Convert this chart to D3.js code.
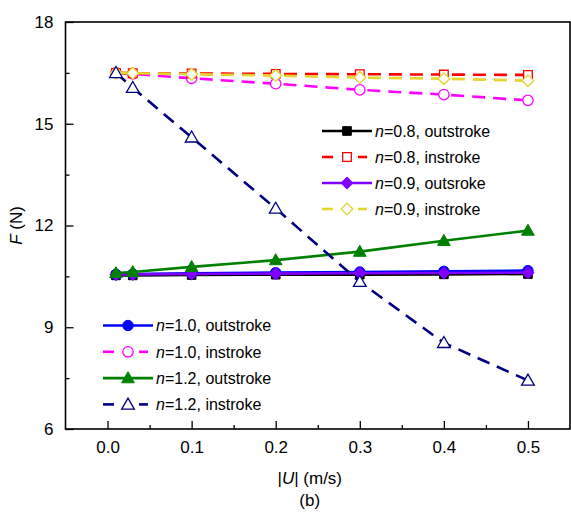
<!DOCTYPE html>
<html lang="en">
<head>
    <meta charset="utf-8" />
    <title>F vs |U|</title>
    <style>
        body { margin: 0; background: white; }
        svg text { font-family: 'Liberation Sans', Arial, sans-serif; fill: black; }
        .tick-label { font-size: 17px; }
        .legend text { font-size: 16px; }
    </style>
    <script src="https://cdn.jsdelivr.net/npm/d3@7"></script>
</head>
<body>
    <svg id="vis" width="571" height="512"></svg>
    <script>
        // velocities (m/s)
        var speeds = [0.01, 0.03, 0.1, 0.2, 0.3, 0.4, 0.5];

        // force values (N) per series
        var n08Out = [10.53, 10.53, 10.54, 10.55, 10.55, 10.56, 10.57];
        var n08In = [16.50, 16.49, 16.48, 16.47, 16.46, 16.45, 16.44];
        var n09Out = [10.55, 10.56, 10.57, 10.58, 10.59, 10.60, 10.61];
        var n09In = [16.50, 16.49, 16.46, 16.42, 16.36, 16.33, 16.27];
        var n10Out = [10.56, 10.57, 10.59, 10.61, 10.63, 10.65, 10.67];
        var n10In = [16.50, 16.47, 16.34, 16.18, 16.00, 15.86, 15.69];
        var n12Out = [10.60, 10.63, 10.78, 10.98, 11.23, 11.55, 11.85];
        var n12In = [16.50, 16.06, 14.60, 12.50, 10.34, 8.54, 7.43];

        var xTicks = [0, 0.1, 0.2, 0.3, 0.4, 0.5];
        var yTicks = [6, 9, 12, 15, 18];

        var series = [
            { n: "0.8", kind: "outstroke", vals: n08Out, color: "#000000", shape: "square", filled: true, dashed: false },
            { n: "0.8", kind: "instroke", vals: n08In, color: "#ff0000", shape: "square", filled: false, dashed: true },
            { n: "0.9", kind: "outsroke", vals: n09Out, color: "#8000ff", shape: "diamond", filled: true, dashed: false },
            { n: "0.9", kind: "instroke", vals: n09In, color: "#e3d42e", shape: "diamond", filled: false, dashed: true },
            { n: "1.0", kind: "outstroke", vals: n10Out, color: "#0000ff", shape: "circle", filled: true, dashed: false },
            { n: "1.0", kind: "instroke", vals: n10In, color: "#ff00ff", shape: "circle", filled: false, dashed: true },
            { n: "1.2", kind: "outstroke", vals: n12Out, color: "#008000", shape: "triangle", filled: true, dashed: false },
            { n: "1.2", kind: "instroke", vals: n12In, color: "#000080", shape: "triangle", filled: false, dashed: true }
        ];

        // draw order (so the purple sits on top of the blue, yellow on red)
        var drawOrder = [0, 4, 2, 6, 5, 1, 3, 7];

        var margin = { top: 22, left: 65.5, bottom: 83, right: 1 };
        var width = 571, height = 512;

        var svg = d3.select("#vis");

        var x = d3.scaleLinear().domain([-0.05, 0.55]).range([margin.left, width - margin.right]);
        var y = d3.scaleLinear().domain([6, 18]).range([height - margin.bottom, margin.top]);

        // diamond = square turned 45 degrees
        var symbolFor = {
            square: d3.symbolSquare,
            diamond: d3.symbolSquare,
            circle: d3.symbolCircle,
            triangle: d3.symbolTriangle
        };
        var sizeFor = { square: 75, diamond: 68, circle: 85, triangle: 70 };

        function drawMarker(g, s, cx, cy) {
            var tr = "translate(" + cx + "," + (cy + (s.shape == "triangle" ? 1 : 0)) + ")";
            if (s.shape == "diamond") tr += " rotate(45)";
            g.append("path")
                .attr("d", d3.symbol().type(symbolFor[s.shape]).size(sizeFor[s.shape])())
                .attr("transform", tr)
                .attr("fill", s.filled ? s.color : "white")
                .attr("stroke", s.color)
                .attr("stroke-width", s.filled ? 1 : 1.3);
        }

        // frame + axes
        var axisG = svg.append("g").attr("class", "axes");

        var xAxis = d3.axisBottom(x).tickValues(xTicks).tickFormat(d3.format(".1f")).tickSizeInner(-8).tickSizeOuter(0).tickPadding(12);
        var gx = axisG.append("g").attr("transform", "translate(0," + y(6) + ")").call(xAxis);
        gx.select(".domain").remove();
        gx.selectAll("text").attr("class", "tick-label").attr("font-size", null).attr("font-family", null);
        gx.selectAll("line").attr("stroke-width", 1.3);

        var xMinor = axisG.append("g").attr("transform", "translate(0," + y(6) + ")")
            .call(d3.axisBottom(x).tickValues([0.05, 0.15, 0.25, 0.35, 0.45]).tickFormat("").tickSizeInner(-4).tickSizeOuter(0));
        xMinor.select(".domain").remove();
        xMinor.selectAll("line").attr("stroke-width", 1.3);

        var yAxis = d3.axisLeft(y).tickValues(yTicks).tickFormat(d3.format("d")).tickSizeInner(-8).tickSizeOuter(0).tickPadding(12);
        var gy = axisG.append("g").attr("transform", "translate(" + x(-0.05) + ",0)").call(yAxis);
        gy.select(".domain").remove();
        gy.selectAll("text").attr("class", "tick-label").attr("font-size", null).attr("font-family", null);
        gy.selectAll("line").attr("stroke-width", 1.3);

        var yMinor = axisG.append("g").attr("transform", "translate(" + x(-0.05) + ",0)")
            .call(d3.axisLeft(y).tickValues([7.5, 10.5, 13.5, 16.5]).tickFormat("").tickSizeInner(-4).tickSizeOuter(0));
        yMinor.select(".domain").remove();
        yMinor.selectAll("line").attr("stroke-width", 1.3);

        axisG.append("rect")
            .attr("x", x(-0.05)).attr("y", y(18))
            .attr("width", x(0.55) - x(-0.05)).attr("height", y(6) - y(18))
            .attr("fill", "none").attr("stroke", "black").attr("stroke-width", 1.6);

        // series
        var line = d3.line().x(function (d) { return x(d[0]); }).y(function (d) { return y(d[1]); });
        var plot = svg.append("g").attr("class", "plot");

        drawOrder.forEach(function (idx) {
            var s = series[idx];
            var pts = speeds.map(function (v, i) { return [v, s.vals[i]]; });
            var g = plot.append("g");
            g.append("path").datum(pts).attr("d", line)
                .attr("fill", "none").attr("stroke", s.color).attr("stroke-width", 2.6)
                .attr("stroke-dasharray", s.dashed ? "13,8" : null);
            pts.forEach(function (p) { drawMarker(g, s, x(p[0]), y(p[1])); });
        });

        // legends
        function drawLegend(items, lx, ly, step) {
            var lg = svg.append("g").attr("class", "legend");
            items.forEach(function (s, i) {
                var cy = ly + i * step;
                var row = lg.append("g");
                if (s.dashed) {
                    row.append("line").attr("x1", lx).attr("x2", lx + 11).attr("y1", cy).attr("y2", cy)
                        .attr("stroke", s.color).attr("stroke-width", 2.6);
                    row.append("line").attr("x1", lx + 36).attr("x2", lx + 45).attr("y1", cy).attr("y2", cy)
                        .attr("stroke", s.color).attr("stroke-width", 2.6);
                } else {
                    row.append("line").attr("x1", lx).attr("x2", lx + 50).attr("y1", cy).attr("y2", cy)
                        .attr("stroke", s.color).attr("stroke-width", 2.6);
                }
                drawMarker(row, s, lx + 25, cy);
                var t = row.append("text").attr("x", lx + 53).attr("y", cy).attr("dy", "0.36em");
                t.append("tspan").attr("font-style", "italic").text("n");
                t.append("tspan").text("=" + s.n + ", " + s.kind);
            });
        }

        drawLegend(series.slice(0, 4), 322, 131, 26);
        drawLegend(series.slice(4, 8), 103, 325.5, 26.3);

        // axis titles
        var xt = svg.append("text").attr("x", x(0.25) - 8).attr("y", 484).attr("text-anchor", "middle").attr("font-size", 17);
        xt.append("tspan").text("|");
        xt.append("tspan").attr("font-style", "italic").text("U");
        xt.append("tspan").text("| (m/s)");

        svg.append("text").attr("x", x(0.25) - 8).attr("y", 506).attr("text-anchor", "middle").attr("font-size", 17).text("(b)");

        var yt = svg.append("text").attr("transform", "translate(22," + y(12) + ") rotate(-90)")
            .attr("text-anchor", "middle").attr("font-size", 17);
        yt.append("tspan").attr("font-style", "italic").text("F");
        yt.append("tspan").text(" (N)");
    </script>
</body>
</html>
